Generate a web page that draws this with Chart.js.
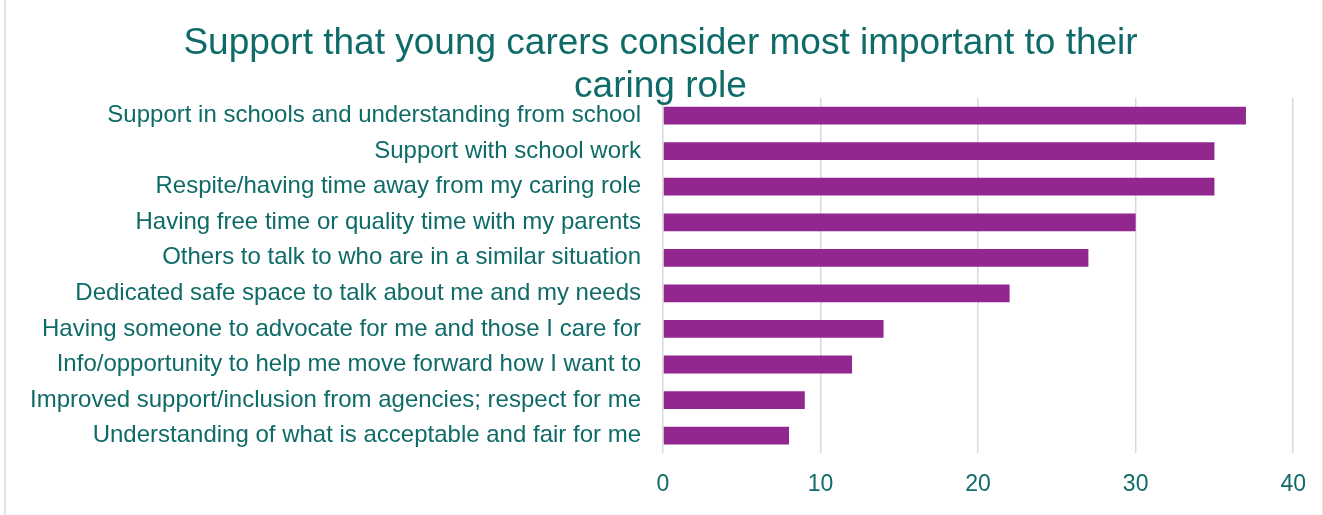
<!DOCTYPE html>
<html lang="en">
  <head>
    <meta charset="UTF-8" />
    <title>Support that young carers consider most important</title>
    <script src="https://cdn.jsdelivr.net/npm/chart.js"></script>
    <style>
      body {
        margin: 0;
        background: #fff;
      }
      #wrap {
        position: relative;
        width: 1323px;
        height: 515px;
      }
      #frame {
        position: absolute;
        left: 4px;
        top: 0;
        width: 1316px;
        height: 515px;
        border-left: 2px solid #e3e3e3;
        border-right: 1px solid #e3e3e3;
        pointer-events: none;
      }
    </style>
  </head>
  <body>
    <div id="wrap">
      <canvas id="barChart" width="1323" height="515"></canvas>
      <div id="frame"></div>
    </div>

    <script>
      const categories = [
        "Support in schools and understanding from school",
        "Support with school work",
        "Respite/having time away from my caring role",
        "Having free time or quality time with my parents",
        "Others to talk to who are in a similar situation",
        "Dedicated safe space to talk about me and my needs",
        "Having someone to advocate for me and those I care for",
        "Info/opportunity to help me move forward how I want to",
        "Improved support/inclusion from agencies; respect for me",
        "Understanding of what is acceptable and fair for me",
      ];
      const responses = [37, 35, 35, 30, 27, 22, 14, 12, 9, 8];
      const xTicks = [0, 10, 20, 30, 40];
      const chartTitle = [
        "Support that young carers consider most important to their",
        "caring role",
      ];

      const teal = "#0e6b68";
      const purple = "#92278f";
      const gridGrey = "#d9d9d9";
      const fontFamily = "'Liberation Sans', Arial, sans-serif";

      const ctx = document.getElementById("barChart").getContext("2d");

      // labels are clipped to the axis box, so keep it wide enough
      const padLeft = 26;

      new Chart(ctx, {
        type: "bar",
        data: {
          labels: categories,
          datasets: [
            {
              label: "Responses",
              data: responses,
              backgroundColor: purple,
              barPercentage: 0.5,
              categoryPercentage: 1,
            },
          ],
        },
        options: {
          indexAxis: "y",
          responsive: false,
          animation: false,
          layout: {
            padding: { left: padLeft, right: 28, top: 0, bottom: 0 },
          },
          plugins: {
            legend: { display: false },
            tooltip: { enabled: false },
            title: {
              display: true,
              text: chartTitle,
              color: teal,
              font: { family: fontFamily, size: 37, weight: "normal", lineHeight: 1.16 },
              padding: { top: 22, bottom: -10 },
            },
          },
          scales: {
            x: {
              min: 0,
              max: 40,
              afterBuildTicks: (scale) => {
                scale.ticks = xTicks.map((v) => ({ value: v }));
              },
              grid: {
                color: gridGrey,
                lineWidth: 1.5,
                drawTicks: false,
              },
              border: { display: false },
              ticks: {
                color: teal,
                padding: 17,
                font: { family: fontFamily, size: 23 },
              },
            },
            y: {
              afterFit: (scale) => {
                scale.width = 663 - padLeft;
              },
              grid: { display: false, drawTicks: false },
              border: { display: false },
              ticks: {
                color: teal,
                padding: 22,
                font: { family: fontFamily, size: 24 },
              },
            },
          },
        },
      });
    </script>
  </body>
</html>
